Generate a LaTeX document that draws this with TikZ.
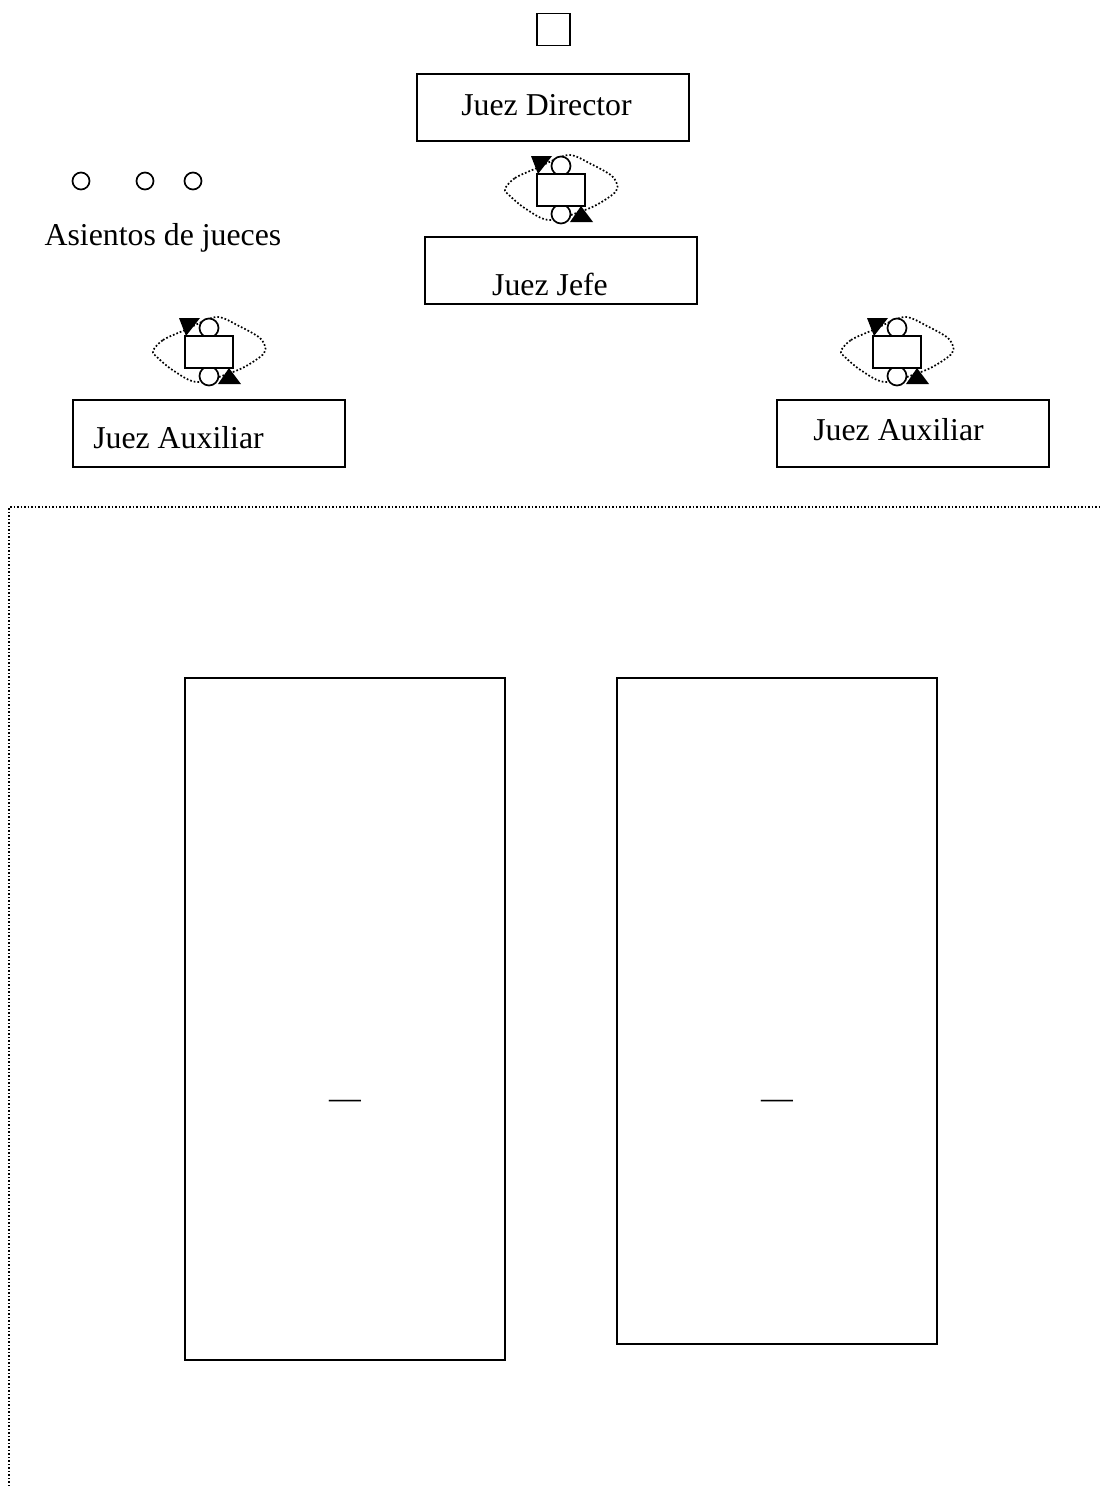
\documentclass[tikz,border=0pt]{standalone}
\usepackage{fontspec}
\setmainfont{Liberation Serif}
\usepackage{tikz}
\usetikzlibrary{positioning}
\newcommand{\halopath}{plot[smooth cycle] coordinates {(-56,-1) (-46,-12) (-24,-22) (7,-35) (30,-26) (51,-14) (56.5,-3) (51,5) (29,18) (-11,30) (-35,19) (-51,6)}}
\begin{document}
\begin{tikzpicture}[
  x=1pt, y=-1pt,
  font=\fontsize{31.8}{36}\selectfont,
  line width=1.7pt,
  blk/.style={draw, minimum width=272pt, minimum height=67pt, inner sep=0pt, fill=white},
  mesa/.style={draw, minimum width=320pt, inner sep=0pt},
  chair/.style={draw, minimum width=48pt, minimum height=32pt, inner sep=0pt, fill=white},
  seat/.style={draw, circle, minimum size=17pt, inner sep=0pt, fill=white},
  seatb/.style={seat, minimum size=19pt},
  lbl/.style={inner sep=0pt},
]
\useasboundingbox (0,0) rectangle (1102,1486);
% ---------- top of the room ----------
\node[draw, minimum width=33pt, minimum height=32pt, inner sep=0pt] (top) at (553.5,29.5){};
\node[blk] (dir) at (553,107.5){};
\node[lbl] (dirt) at (546.5,105){Juez Director};
\node[blk] (jefe) at (561,270.5){};
\node[lbl] (jefet) at (550,284){Juez Jefe};
\node[blk] (auxa) at (209,433.5){};
\node[lbl] (auxat) at (178.5,438){Juez Auxiliar};
\node[blk] (auxb) at (913,433.5){};
\node[lbl] (auxbt) at (898.5,430){Juez Auxiliar};
% ---------- seats key ----------
\node[seat] (s1) at (81,181){};
\node[seat] (s2) at (145,181){};
\node[seat] (s3) at (193,181){};
\node[lbl] (key) at (163,238){Asientos de jueces};
% ---------- chief judge ----------
\begin{scope}[shift={(561,190)}]
  \draw[dotted] \halopath;
  \node[seatb] (c1) at (0,-24){};
  \node[seatb] (d1) at (0,24){};
  \node[chair] (b1) at (0,0){};
  \fill (-30,-34) -- (-9,-34) -- (-23,-16) -- cycle;
  \fill (20,16) -- (9,32) -- (32,32) -- cycle;
\end{scope}
% ---------- left assistant ----------
\begin{scope}[shift={(209,352)}]
  \draw[dotted] \halopath;
  \node[seatb] (c2) at (0,-24){};
  \node[seatb] (d2) at (0,24){};
  \node[chair] (b2) at (0,0){};
  \fill (-30,-34) -- (-9,-34) -- (-23,-16) -- cycle;
  \fill (20,16) -- (9,32) -- (32,32) -- cycle;
\end{scope}
% ---------- right assistant ----------
\begin{scope}[shift={(897,352)}]
  \draw[dotted] \halopath;
  \node[seatb] (c3) at (0,-24){};
  \node[seatb] (d3) at (0,24){};
  \node[chair] (b3) at (0,0){};
  \fill (-30,-34) -- (-9,-34) -- (-23,-16) -- cycle;
  \fill (20,16) -- (9,32) -- (32,32) -- cycle;
\end{scope}
% ---------- dotted limit ----------
\draw[dotted, line width=1.5pt] (9,1486) -- (9,507) -- (1102,507);
% ---------- tables ----------
\node[mesa, minimum height=682pt] (ma) at (345,1019){};
\node[lbl] (mat) at (345,1104){—};
\node[mesa, minimum height=666pt] (mb) at (777,1011){};
\node[lbl] (mbt) at (777,1104){—};
\end{tikzpicture}
\end{document}
